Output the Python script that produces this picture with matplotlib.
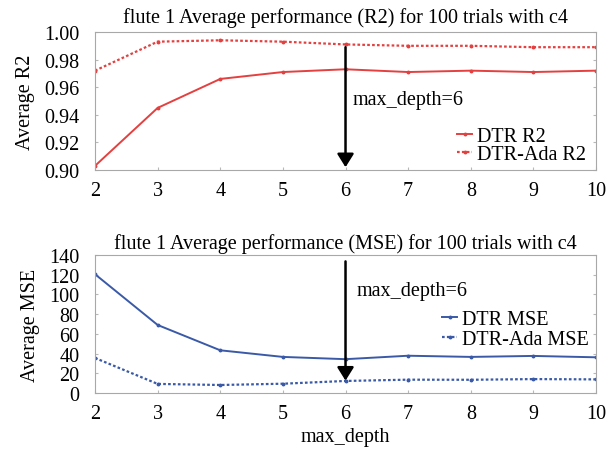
import matplotlib
matplotlib.use("Agg")
import matplotlib.pyplot as plt

plt.rcParams['font.family'] = ['Liberation Serif', 'DejaVu Serif']

depth = [2, 3, 4, 5, 6, 7, 8, 9, 10]
dtr_r2 = [0.903, 0.945, 0.966, 0.971, 0.973, 0.971, 0.972, 0.971, 0.972]
ada_r2 = [0.972, 0.993, 0.994, 0.993, 0.991, 0.990, 0.990, 0.989, 0.989]
dtr_mse = [120.5, 69.0, 43.3, 36.6, 34.3, 37.8, 36.6, 37.6, 36.2]
ada_mse = [35.5, 9.2, 8.1, 9.4, 12.2, 13.5, 13.4, 14.1, 13.8]

red = "#e4403f"
blue = "#3a5aa8"
fs = 14.5

fig = plt.figure(figsize=(6.11, 4.56), dpi=100)
ax1 = fig.add_axes([0.1555, 0.625, 0.820, 0.3026])
ax2 = fig.add_axes([0.1555, 0.136, 0.820, 0.3026])

def style(ax):
    for s in ax.spines.values():
        s.set_color('#a8a8a8')
    ax.tick_params(axis='both', direction='in', length=2.5, color='#b8b8b8',
                   labelsize=fs, right=True)
    ax.tick_params(axis='y', pad=11)
    ax.tick_params(axis='x', pad=8)
    ax.set_xlim(2, 10)
    ax.set_xticks(depth)

dot = (0, (1.2, 1.0))
arrow = dict(arrowstyle='-|>,head_length=0.4,head_width=0.25', color='black',
             lw=1.8, mutation_scale=20, shrinkA=0, shrinkB=0)

# top: R2
ax1.plot(depth, dtr_r2, color=red, lw=1.4, marker='o', ms=1.8, label="DTR R2")
ax1.plot(depth, ada_r2, color=red, lw=1.6, ls=dot, marker='o', ms=1.8, label="DTR-Ada R2")
style(ax1)
ax1.set_ylim(0.90, 1.00)
ax1.set_yticks([0.90, 0.92, 0.94, 0.96, 0.98, 1.00])
ax1.set_yticklabels(["0.90", "0.92", "0.94", "0.96", "0.98", "1.00"])
ax1.set_ylabel("Average R2", fontsize=fs, labelpad=7)
ax1.set_title("flute 1 Average performance (R2) for 100 trials with c4", fontsize=fs, pad=7)
ax1.annotate("", xy=(6, 0.902), xytext=(6, 0.989), arrowprops=arrow)
ax1.text(6.11, 0.951, "max_depth=6", fontsize=fs, va='center')
ax1.legend(loc='center left', bbox_to_anchor=(0.7225, 0.175), frameon=False, fontsize=fs,
           handlelength=0.75, handletextpad=0.25, borderpad=0, borderaxespad=0,
           labelspacing=-0.06)

# bottom: MSE
ax2.plot(depth, dtr_mse, color=blue, lw=1.4, marker='o', ms=1.8, label="DTR MSE")
ax2.plot(depth, ada_mse, color=blue, lw=1.6, ls=dot, marker='o', ms=1.8, label="DTR-Ada MSE")
style(ax2)
ax2.set_ylim(0, 140)
ax2.set_yticks(range(0, 141, 20))
ax2.set_ylabel("Average MSE", fontsize=fs, labelpad=7)
ax2.set_xlabel("max_depth", fontsize=fs, labelpad=3)
ax2.set_title("flute 1 Average performance (MSE) for 100 trials with c4", fontsize=fs, pad=5)
ax2.annotate("", xy=(6, 12.5), xytext=(6, 133.5), arrowprops=arrow)
ax2.text(6.17, 103.5, "max_depth=6", fontsize=fs, va='center')
ax2.legend(loc='center left', bbox_to_anchor=(0.693, 0.46), frameon=False, fontsize=fs,
           handlelength=0.75, handletextpad=0.25, borderpad=0, borderaxespad=0,
           labelspacing=0.06)

fig.savefig("out.png", dpi=100)
